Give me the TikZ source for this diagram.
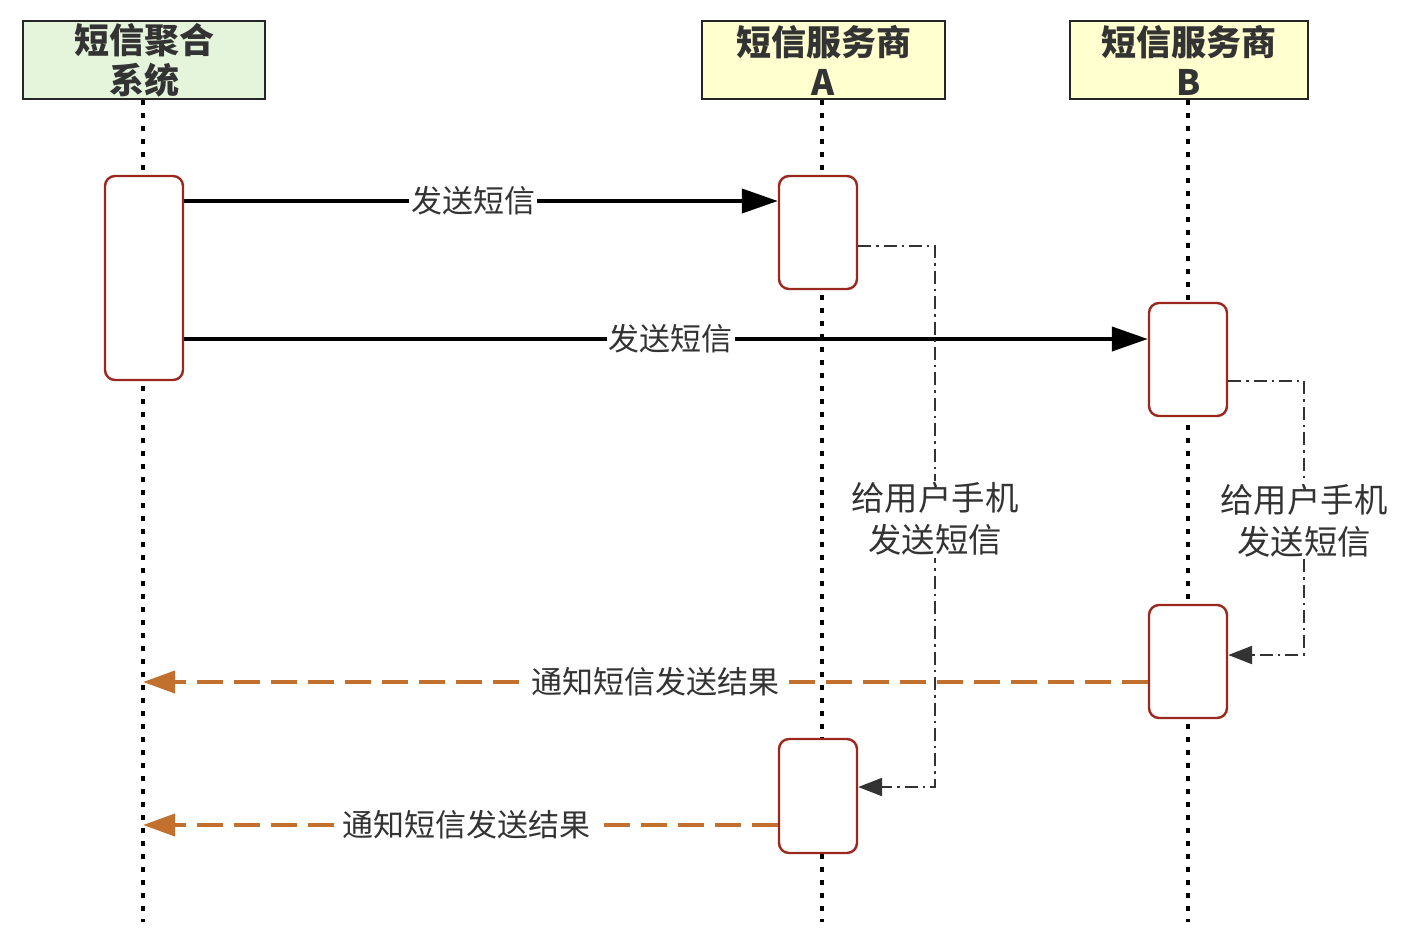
\documentclass[tikz,border=0pt]{standalone}
\usepackage{fontspec}
\setmainfont{Noto Sans CJK SC}
\usetikzlibrary{arrows.meta}
\definecolor{sysgreen}{RGB}{229,245,220}
\definecolor{spyellow}{RGB}{255,255,208}
\definecolor{actred}{RGB}{155,40,30}
\definecolor{retorange}{RGB}{194,112,46}
\definecolor{txtgray}{RGB}{51,51,51}
\begin{document}
\begin{tikzpicture}[x=0.5pt,y=-0.5pt,
    hdr/.style={draw=black!85,line width=1.1pt,inner sep=0pt,align=center,
      minimum height=39pt,text=txtgray,
      font=\fontsize{17.5}{20}\selectfont\bfseries},
    life/.style={line width=2.4pt,dash pattern=on 2.4pt off 4.1pt},
    act/.style={draw=actred,line width=1.2pt,fill=white,rounded corners=5pt,
      minimum width=39pt,inner sep=0pt},
    call/.style={line width=2pt,-{Triangle[length=18pt,width=12pt]}},
    ret/.style={draw=retorange,line width=2pt,dash pattern=on 13pt off 5.5pt,
      -{Triangle[length=16pt,width=11pt,fill=retorange]}},
    self/.style={draw=txtgray,line width=1.2pt,
      dash pattern=on 6.5pt off 2.5pt on 1.2pt off 2.5pt,
      -{Triangle[length=12pt,width=9pt,fill=txtgray]}},
    msg/.style={fill=white,inner sep=1pt,text=txtgray,
      font=\fontsize{15.5}{18}\selectfont},
    note/.style={fill=white,inner sep=1pt,text=txtgray,align=center,
      font=\fontsize{16.7}{21}\selectfont}]
  \useasboundingbox (0,0) rectangle (1412,938);
  % participants
  \node[hdr,fill=sysgreen,minimum width=121pt] (sys) at (144,60) {短信聚合\\系统};
  \node[hdr,fill=spyellow,minimum width=121.5pt] (spa) at (823.5,60) {短信服务商\\A};
  \node[hdr,fill=spyellow,minimum width=119pt] (spb) at (1189,60) {短信服务商\\B};
  % lifelines
  \coordinate (sysEnd) at (143,922);
  \coordinate (spaEnd) at (822,922);
  \coordinate (spbEnd) at (1188,922);
  \draw[life] (sys.south -| sysEnd) -- (sysEnd);
  \draw[life] (spa.south -| spaEnd) -- (spaEnd);
  \draw[life] (spb.south -| spbEnd) -- (spbEnd);
  % activations
  \node[act,minimum height=102pt] (sysAct) at (144,278) {};
  \node[act,minimum height=56.5pt] (aAct) at (818,232.5) {};
  \node[act,minimum height=56.5pt] (bAct) at (1188,359.5) {};
  \node[act,minimum height=56.5pt] (bAct2) at (1188,661.5) {};
  \node[act,minimum height=57pt] (aAct2) at (818,796) {};
  % messages
  \draw[call] (sysAct.east |- 0,201) --
    node[msg,pos=0.487] {发送短信} (aAct.west |- 0,201);
  \draw[call] (sysAct.east |- 0,339) --
    node[msg,pos=0.505] {发送短信} (bAct.west |- 0,339);
  \draw[self] (aAct.east |- 0,246) -- (935,246) --
    node[note,pos=0.505] {给用户手机\\发送短信} (935,787) -- (aAct2.east |- 0,787);
  \draw[self] (bAct.east |- 0,381) -- (1304,381) --
    node[note,pos=0.51] {给用户手机\\发送短信} (1304,655) -- (bAct2.east |- 0,655);
  \draw[ret] (bAct2.west |- 0,682) --
    node[msg,pos=0.49] {通知短信发送结果} (sysEnd |- 0,682);
  \draw[ret] (aAct2.west |- 0,825) --
    node[msg,pos=0.49] {通知短信发送结果} (sysEnd |- 0,825);
\end{tikzpicture}
\end{document}
